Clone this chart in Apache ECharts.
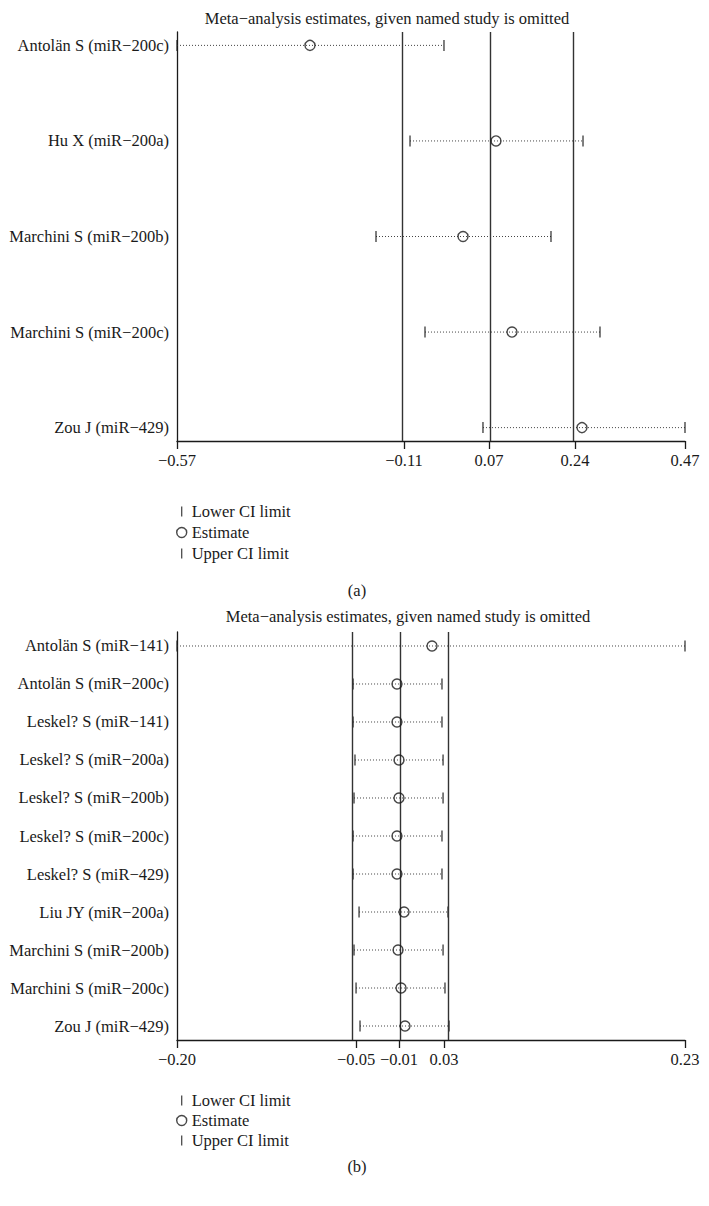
<!DOCTYPE html>
<html>
<head>
<meta charset="utf-8">
<script src="https://cdn.jsdelivr.net/npm/echarts@6/dist/echarts.min.js"></script>
<style>
  html, body { margin: 0; padding: 0; background: #fff; }
  #chart { width: 709px; height: 1206px; }
</style>
</head>
<body>
<div id="chart"></div>
<script>
// panel (a)
const studiesA = ['Antolän S (miR−200c)', 'Hu X (miR−200a)', 'Marchini S (miR−200b)', 'Marchini S (miR−200c)', 'Zou J (miR−429)']
const lowerA = [-0.572, -0.0945, -0.1642, -0.0638, 0.055]
const estA = [-0.2995, 0.0817, 0.0141, 0.1145, 0.2579]
const upperA = [-0.0249, 0.26, 0.1944, 0.2948, 0.469]
const pooledA = [-0.1068, 0.0673, 0.2436] // lower CI, estimate, upper CI

// panel (b)
const studiesB = ['Antolän S (miR−141)', 'Antolän S (miR−200c)', 'Leskel? S (miR−141)', 'Leskel? S (miR−200a)',
  'Leskel? S (miR−200b)', 'Leskel? S (miR−200c)', 'Leskel? S (miR−429)', 'Liu JY (miR−200a)',
  'Marchini S (miR−200b)', 'Marchini S (miR−200c)', 'Zou J (miR−429)']
const lowerB = [-0.196, -0.0493, -0.0493, -0.0477, -0.0485, -0.0493, -0.0493, -0.0443, -0.0485, -0.0468, -0.0435]
const estB = [0.0165, -0.0127, -0.0127, -0.011, -0.011, -0.0127, -0.0127, -0.0068, -0.0118, -0.0093, -0.006]
const upperB = [0.2273, 0.0248, 0.0248, 0.0257, 0.0257, 0.0248, 0.0248, 0.0298, 0.0257, 0.0273, 0.0307]
const pooledB = [-0.0468, -0.011, 0.0265]

const legendNames = ['Lower CI limit', 'Estimate', 'Upper CI limit']

const FONT = 'Liberation Serif'
const INK = '#1a1a1a'
const FS = 16.5

function fmt (v) {
  return (v < 0 ? '−' : '') + Math.abs(v).toFixed(2)
}

function xAxisFor (idx, lower, upper, pooled) {
  const min = Math.min(...lower)
  const max = Math.max(...upper)
  const ticks = [min].concat(pooled, [max])
  return {
    type: 'value',
    gridIndex: idx,
    min: min,
    max: max,
    axisLine: { show: true, onZero: false, lineStyle: { color: INK, width: 1.3 } },
    axisTick: { show: true, length: 8, customValues: ticks, lineStyle: { color: INK, width: 1.3 } },
    axisLabel: { customValues: ticks, margin: 11, fontSize: FS, color: INK, fontFamily: FONT, formatter: fmt },
    splitLine: { show: false }
  }
}

function yAxisFor (idx, names, pad) {
  return {
    type: 'value',
    gridIndex: idx,
    inverse: true,
    min: -pad,
    max: names.length - 1 + pad,
    axisLine: { show: true, onZero: false, lineStyle: { color: INK, width: 1.3 } },
    axisTick: { show: false },
    axisLabel: {
      customValues: names.map((n, i) => i),
      margin: 8,
      fontSize: FS,
      color: INK,
      fontFamily: FONT,
      formatter: (v) => names[v]
    },
    splitLine: { show: false }
  }
}

function seriesFor (idx, lower, est, upper, pooled) {
  const rows = lower.map((v, i) => i)
  return [
    {
      type: 'custom',
      xAxisIndex: idx,
      yAxisIndex: idx,
      silent: true,
      data: rows.map(i => [lower[i], upper[i], i]),
      renderItem: (params, api) => {
        const p1 = api.coord([api.value(0), api.value(2)])
        const p2 = api.coord([api.value(1), api.value(2)])
        return {
          type: 'line',
          shape: { x1: p1[0], y1: p1[1], x2: p2[0], y2: p2[1] },
          style: { stroke: '#444', lineWidth: 1, lineDash: [1, 2] }
        }
      }
    },
    {
      name: 'Lower CI limit',
      type: 'scatter',
      xAxisIndex: idx,
      yAxisIndex: idx,
      silent: true,
      symbol: 'rect',
      symbolSize: [1.4, 11],
      itemStyle: { color: INK },
      data: rows.map(i => [lower[i], i])
    },
    {
      name: 'Upper CI limit',
      type: 'scatter',
      xAxisIndex: idx,
      yAxisIndex: idx,
      silent: true,
      symbol: 'rect',
      symbolSize: [1.4, 11],
      itemStyle: { color: INK },
      data: rows.map(i => [upper[i], i])
    },
    {
      name: 'Estimate',
      type: 'scatter',
      xAxisIndex: idx,
      yAxisIndex: idx,
      silent: true,
      symbol: 'circle',
      symbolSize: 10,
      z: 5,
      itemStyle: { color: 'rgba(0,0,0,0)', borderColor: INK, borderWidth: 1.4 },
      data: rows.map(i => [est[i], i]),
      markLine: {
        silent: true,
        symbol: 'none',
        label: { show: false },
        lineStyle: { color: '#333', width: 1.4, type: 'solid' },
        data: pooled.map(v => ({ xAxis: v }))
      }
    }
  ]
}

function legendFor (top, gap) {
  return {
    orient: 'vertical',
    left: 171,
    top: top,
    itemWidth: 10,
    itemHeight: 10,
    itemGap: gap,
    selectedMode: false,
    textStyle: { fontSize: FS, color: INK, fontFamily: FONT },
    data: [
      { name: legendNames[0], icon: 'path://M0,0h1.4v11h-1.4z' },
      { name: legendNames[1], icon: 'circle', itemStyle: { color: 'rgba(0,0,0,0)', borderColor: INK, borderWidth: 1.4 } },
      { name: legendNames[2], icon: 'path://M0,0h1.4v11h-1.4z' }
    ]
  }
}

const titleStyle = { fontSize: FS, fontWeight: 'normal', color: INK, fontFamily: FONT }

const chart = echarts.init(document.getElementById('chart'), null, { renderer: 'svg' })
chart.setOption({
  animation: false,
  backgroundColor: '#fff',
  textStyle: { fontFamily: FONT, color: INK },
  title: [
    { text: 'Meta−analysis estimates, given named study is omitted', left: 382, top: 5, textAlign: 'center', textStyle: titleStyle },
    { text: '(a)', left: 352, top: 577, textAlign: 'center', textStyle: titleStyle },
    { text: 'Meta−analysis estimates, given named study is omitted', left: 403, top: 603, textAlign: 'center', textStyle: titleStyle },
    { text: '(b)', left: 352, top: 1153, textAlign: 'center', textStyle: titleStyle }
  ],
  legend: [legendFor(498, 4), legendFor(1087, 3)],
  grid: [
    { left: 177, right: 24, top: 32, height: 409 },
    { left: 177, right: 24, top: 632, height: 408 }
  ],
  xAxis: [
    xAxisFor(0, lowerA, upperA, pooledA),
    xAxisFor(1, lowerB, upperB, pooledB)
  ],
  yAxis: [
    yAxisFor(0, studiesA, 0.14),
    yAxisFor(1, studiesB, 0.368)
  ],
  series: seriesFor(0, lowerA, estA, upperA, pooledA).concat(seriesFor(1, lowerB, estB, upperB, pooledB))
})
</script>
</body>
</html>
